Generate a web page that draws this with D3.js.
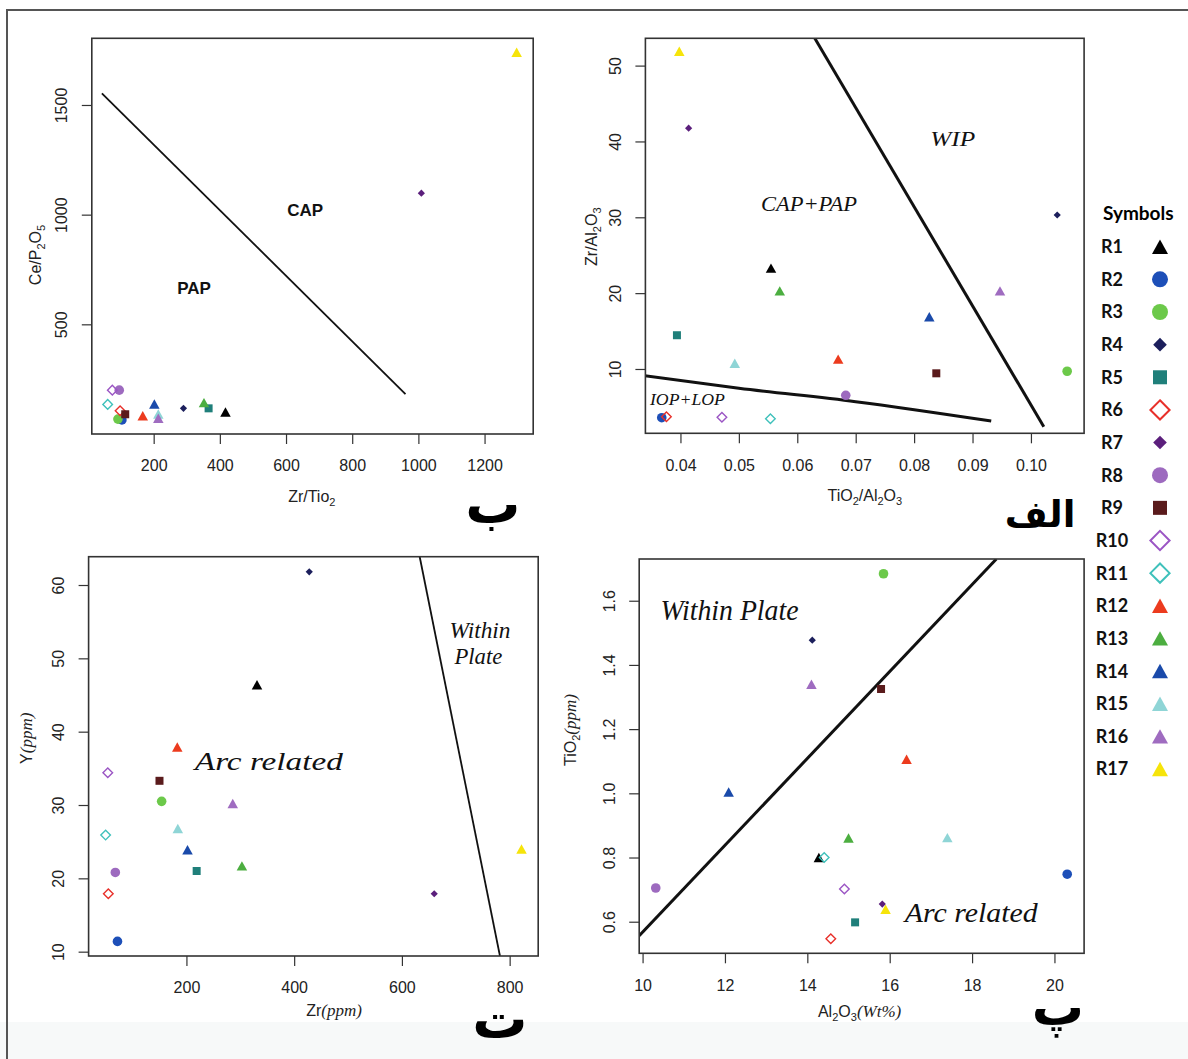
<!DOCTYPE html>
<html><head><meta charset="utf-8">
<script src="https://cdn.jsdelivr.net/npm/d3@7"></script>
<style>
html,body{margin:0;padding:0;background:#fff;}
svg{display:block;}
</style></head>
<body>
<svg id="chart" width="1188" height="1059"></svg>
<script>
// ---------------- DATA ----------------
const samples = ["R1","R2","R3","R4","R5","R6","R7","R8","R9","R10","R11","R12","R13","R14","R15","R16","R17"];
const symbolShapes = ["triangle","circle","circle","diamond","square","openDiamond","diamond","circle","square","openDiamond","openDiamond","triangle","triangle","triangle","triangle","triangle","triangle"];
const symbolColors = ["#000000","#1d4fb8","#6cc94a","#1c1f5c","#1f7f7a","#e8302a","#5b1f7c","#9d6abf","#5a1b1c","#9b55c4","#3fc1bb","#ec3b1e","#4cae40","#1a4aaa","#8fd5d6","#9f6cc0","#f6e40a"];

// Panel ب : Zr/TiO2 vs Ce/P2O5
const bX = [417, 104, 92, 290, 366, 98.5, 1009, 96, 114, 75, 61, 167, 352, 202, 214, 214, 1297];
const bY = [100, 64, 68, 117, 117, 106, 1098, 200, 90, 200, 135, 83, 143, 137, 91, 72, 1740];
const bLineX = [43.5, 961];
const bLineY = [1553, 182];
const bXTicks = [200, 400, 600, 800, 1000, 1200];
const bYTicks = [500, 1000, 1500];

// Panel الف : TiO2/Al2O3 vs Zr/Al2O3
const aX = [0.0555, 0.0368, 0.1062, 0.1045, 0.0394, 0.0376, 0.0414, 0.0683, 0.0838, 0.0471, 0.0554, 0.0670, 0.0570, 0.0826, 0.0493, 0.0947, 0.0398];
const aY = [23.3, 3.58, 9.7, 30.3, 14.45, 3.7, 41.75, 6.53, 9.43, 3.63, 3.44, 11.3, 20.3, 16.9, 10.75, 20.3, 51.9];
const aLine1X = [0.030, 0.05, 0.07, 0.0932];
const aLine1Y = [9.5, 7.45, 5.69, 3.14];
const aLine2X = [0.063, 0.1022];
const aLine2Y = [53.6, 2.39];
const aXTicks = [0.04, 0.05, 0.06, 0.07, 0.08, 0.09, 0.10];
const aYTicks = [10, 20, 30, 40, 50];

// Panel ت : Zr vs Y
const tX = [331, 72, 154, 428, 219, 55, 660, 68, 150, 54, 50, 183, 303, 202, 184, 286, 822];
const tY = [46.4, 11.4, 30.5, 61.8, 21.0, 17.9, 17.9, 20.8, 33.3, 34.4, 25.9, 37.9, 21.7, 23.9, 26.8, 30.2, 24.0];
const tLineX = [633, 782];
const tLineY = [63.86, 9.41];
const tXTicks = [200, 400, 600, 800];
const tYTicks = [10, 20, 30, 40, 50, 60];

// Panel پ : Al2O3 vs TiO2
const pX = [14.28, 20.31, 15.85, 14.12, 15.16, 14.57, 15.82, 10.32, 15.79, 14.90, 14.41, 16.41, 15.0, 12.09, 17.40, 14.10, 15.90];
const pY = [0.80, 0.748, 1.684, 1.477, 0.598, 0.547, 0.655, 0.705, 1.325, 0.702, 0.80, 1.106, 0.861, 1.004, 0.862, 1.34, 0.639];
const pLineX = [9.918, 18.59];
const pLineY = [0.556, 1.73];
const pXTicks = [10, 12, 14, 16, 18, 20];
const pYTicks = [0.6, 0.8, 1.0, 1.2, 1.4, 1.6];

// ---------------- DRAW ----------------
const svg = d3.select("#chart");
const SANS = "'Liberation Sans', Arial, sans-serif";
const SERIF = "'Liberation Serif', 'DejaVu Serif', serif";

svg.append("rect").attr("x",0).attr("y",0).attr("width",1188).attr("height",1059).attr("fill","#fff");
svg.append("rect").attr("x",0).attr("y",1022).attr("width",1188).attr("height",37).attr("fill","#f7f9f9");
svg.append("path").attr("d","M7,1059 L7,10 L1188,10").attr("fill","none").attr("stroke","#555").attr("stroke-width",2);

function shapePath(shape, s) {
  if (shape === "triangle") {
    const w = s.tri, h = w * 0.9;
    return `M0,${-h/2}L${w/2},${h/2}L${-w/2},${h/2}Z`;
  }
  if (shape === "circle") {
    const r = s.circ / 2;
    return `M${r},0A${r},${r} 0 1,1 ${-r},0A${r},${r} 0 1,1 ${r},0Z`;
  }
  if (shape === "square") {
    const h = s.sq / 2;
    return `M${-h},${-h}H${h}V${h}H${-h}Z`;
  }
  if (shape === "diamond") {
    const r = s.dia;
    return `M0,${-r}L${r},0L0,${r}L${-r},0Z`;
  }
  const r = s.odia;
  return `M0,${-r}L${r},0L0,${r}L${-r},0Z`;
}
const panelSizes = {tri: 10.5, circ: 9.6, sq: 8, dia: 3.6, odia: 4.8, ow: 1.4};
const legendSizes = {tri: 16, circ: 16, sq: 14, dia: 6.8, odia: 9.6, ow: 2};

function drawMarker(g, i, sizes) {
  const shape = symbolShapes[i], col = symbolColors[i];
  const p = g.append("path").attr("d", shapePath(shape, sizes));
  if (shape === "openDiamond") p.attr("fill","none").attr("stroke",col).attr("stroke-width",sizes.ow);
  else p.attr("fill",col);
}

let clipId = 0;
function panel(cfg) {
  const [l,t,r,b] = cfg.box;
  const x = d3.scaleLinear().domain(cfg.xDomain).range([l, r]);
  const y = d3.scaleLinear().domain(cfg.yDomain).range([b, t]);
  const g = svg.append("g");
  const id = "clip" + (clipId++);
  g.append("clipPath").attr("id", id).append("rect").attr("x",l).attr("y",t).attr("width",r-l).attr("height",b-t);

  const xa = g.append("g").attr("transform",`translate(0,${b})`)
    .call(d3.axisBottom(x).tickValues(cfg.xTicks).tickSize(10).tickPadding(16).tickFormat(cfg.xFmt));
  xa.select(".domain").remove();
  xa.selectAll("line").attr("stroke","#333").attr("stroke-width",1.2);
  xa.selectAll("text").attr("font-family",SANS).attr("font-size",16).attr("fill","#222");
  const ya = g.append("g").attr("transform",`translate(${l},0)`)
    .call(d3.axisLeft(y).tickValues(cfg.yTicks).tickSize(10).tickFormat(cfg.yFmt));
  ya.select(".domain").remove();
  ya.selectAll("line").attr("stroke","#333").attr("stroke-width",1.2);
  ya.selectAll("text").attr("font-family",SANS).attr("font-size",16).attr("fill","#222")
    .attr("text-anchor","middle").attr("transform","rotate(-90)")
    .attr("x",0).attr("y",-30).attr("dy","0.35em");

  const line = d3.line().x(d => x(d[0])).y(d => y(d[1]));
  const lg = g.append("g").attr("clip-path",`url(#${id})`);
  cfg.lines.forEach(L => {
    const pts = L.x.map((v,k) => [v, L.y[k]]);
    lg.append("path").attr("d", (L.curve ? line.curve(d3.curveMonotoneX) : line.curve(d3.curveLinear))(pts))
      .attr("fill","none").attr("stroke","#111").attr("stroke-width",L.w);
  });

  samples.forEach((s,i) => {
    const pg = g.append("g").attr("transform",`translate(${x(cfg.xs[i])},${y(cfg.ys[i])})`);
    drawMarker(pg, i, panelSizes);
  });

  g.append("rect").attr("x",l).attr("y",t).attr("width",r-l).attr("height",b-t)
    .attr("fill","none").attr("stroke","#333").attr("stroke-width",1.6);

  cfg.labels.forEach(L => {
    const tx = g.append("text").attr("x",x(L.x)).attr("y",y(L.y))
      .attr("text-anchor","middle").attr("dominant-baseline","central")
      .attr("font-family",L.family).attr("font-size",L.size)
      .attr("font-style",L.italic ? "italic" : "normal").attr("font-weight",L.bold ? "bold" : "normal")
      .attr("fill","#111").text(L.text);
    if (L.len) tx.attr("textLength",L.len).attr("lengthAdjust","spacingAndGlyphs");
  });
  return {x, y};
}

function title(xc, yc, parts, rotate) {
  const t = svg.append("text")
    .attr("transform", `translate(${xc},${yc})` + (rotate ? " rotate(-90)" : ""))
    .attr("text-anchor","middle").attr("dy","0.35em")
    .attr("font-family",SANS).attr("font-size",16).attr("fill","#222");
  let shifted = false;
  parts.forEach(([txt, type]) => {
    const sp = t.append("tspan").text(txt);
    if (type === "sub") { sp.attr("font-size",11).attr("dy", 4); shifted = true; }
    else {
      if (shifted) { sp.attr("dy", -4); shifted = false; }
      if (type === "it") sp.attr("font-family",SERIF).attr("font-style","italic").attr("font-size",17);
    }
  });
}

panel({
  box:[91.8, 38.3, 533.2, 434],
  xDomain:[13, 1347], yDomain:[0, 1804],
  xTicks:bXTicks, yTicks:bYTicks, xFmt:d3.format("d"), yFmt:d3.format("d"),
  xs:bX, ys:bY,
  lines:[{x:bLineX, y:bLineY, w:1.8}],
  labels:[{text:"CAP", x:658, y:1021, size:17, family:SANS, bold:true},
          {text:"PAP", x:322, y:664, size:17, family:SANS, bold:true}]
});
panel({
  box:[645.4, 38.3, 1084.1, 433.3],
  xDomain:[0.034, 0.1091], yDomain:[1.52, 53.6],
  xTicks:aXTicks, yTicks:aYTicks, xFmt:d3.format(".2f"), yFmt:d3.format("d"),
  xs:aX, ys:aY,
  lines:[{x:aLine1X, y:aLine1Y, w:3, curve:true},{x:aLine2X, y:aLine2Y, w:3}],
  labels:[{text:"WIP", x:0.0866, y:40.4, size:22, family:SERIF, italic:true, len:45},
          {text:"CAP+PAP", x:0.062, y:31.8, size:22, family:SERIF, italic:true, len:96},
          {text:"IOP+LOP", x:0.0412, y:6.0, size:17, family:SERIF, italic:true, len:75}]
});
panel({
  box:[88.6, 556.7, 538.2, 956],
  xDomain:[18.4, 853], yDomain:[9.41, 63.86],
  xTicks:tXTicks, yTicks:tYTicks, xFmt:d3.format("d"), yFmt:d3.format("d"),
  xs:tX, ys:tY,
  lines:[{x:tLineX, y:tLineY, w:1.8}],
  labels:[{text:"Arc related", x:353, y:36.0, size:26, family:SERIF, italic:true, len:148},
          {text:"Within", x:745, y:53.8, size:24, family:SERIF, italic:true, len:61},
          {text:"Plate", x:742, y:50.3, size:24, family:SERIF, italic:true, len:48}]
});
panel({
  box:[639.2, 559, 1084.1, 953.3],
  xDomain:[9.918, 20.72], yDomain:[0.5016, 1.73],
  xTicks:pXTicks, yTicks:pYTicks, xFmt:d3.format("d"), yFmt:d3.format(".1f"),
  xs:pX, ys:pY,
  lines:[{x:pLineX, y:pLineY, w:3}],
  labels:[{text:"Within Plate", x:12.11, y:1.57, size:29, family:SERIF, italic:true, len:138},
          {text:"Arc related", x:17.98, y:0.626, size:27, family:SERIF, italic:true, len:133}]
});

title(311.8, 496.7, [["Zr/Tio","n"],["2","sub"]], false);
title(35.7, 255, [["Ce/P","n"],["2","sub"],["O","n"],["5","sub"]], true);
title(864.8, 495, [["TiO","n"],["2","sub"],["/Al","n"],["2","sub"],["O","n"],["3","sub"]], false);
title(591, 236.7, [["Zr/Al","n"],["2","sub"],["O","n"],["3","sub"]], true);
title(334, 1010, [["Zr","n"],["(ppm)","it"]], false);
title(26.8, 738.3, [["Y","n"],["(ppm)","it"]], true);
title(859.6, 1011.7, [["Al","n"],["2","sub"],["O","n"],["3","sub"],["(Wt%)","it"]], false);
title(570.3, 730, [["TiO","n"],["2","sub"],["(ppm)","it"]], true);

// Panel letters (Persian): [text, x, baseline y, font size]
const panelLetters = [["ب", 493, 523, 55], ["الف", 1040, 527, 37], ["ت", 500, 1038, 55], ["پ", 1058, 1025, 52]];
panelLetters.forEach(([txt, px, py, fs]) => {
  svg.append("text").attr("x",px).attr("y",py).attr("text-anchor","middle")
    .attr("font-family","'DejaVu Sans', 'Noto Sans', sans-serif").attr("font-weight","bold")
    .attr("font-size",fs).attr("fill","#000").text(txt);
});

const LEG = "Lato, 'Open Sans', sans-serif";
svg.append("text").attr("x",1138.3).attr("y",213.3).attr("dy","0.35em").attr("text-anchor","middle")
  .attr("font-family",LEG).attr("font-weight","bold").attr("font-size",19).attr("fill","#000").text("Symbols");
const legY = d3.scaleLinear().domain([0, samples.length - 1]).range([246.7, 769]);
samples.forEach((s,i) => {
  svg.append("text").attr("x",1112).attr("y",legY(i)).attr("dy","0.36em").attr("text-anchor","middle")
    .attr("font-family",LEG).attr("font-weight","bold").attr("font-size",18).attr("fill","#111").text(s);
  const g = svg.append("g").attr("transform",`translate(1160,${legY(i)})`);
  drawMarker(g, i, legendSizes);
});
</script>
</body></html>
